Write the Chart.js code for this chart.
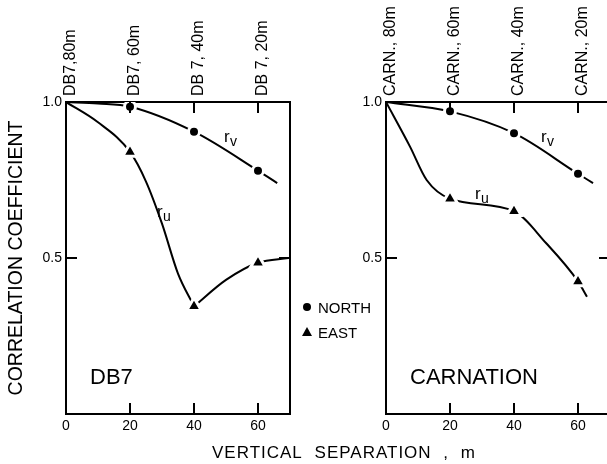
<!DOCTYPE html>
<html>
<head>
<meta charset="utf-8">
<script src="https://cdn.jsdelivr.net/npm/chart.js@4.4.1/dist/chart.umd.min.js"></script>
<style>
  body { margin: 0; background: #fff; }
  #wrap { position: relative; width: 607px; height: 464px; overflow: hidden; }
  #wrap canvas { position: absolute; left: 0; top: 0; }
</style>
</head>
<body>
<div id="wrap">
  <canvas id="db7" width="607" height="464"></canvas>
  <canvas id="carn" width="660" height="464"></canvas>
</div>
<script>
// Tick values and labels
const sepTicks = [0, 20, 40, 60];
const corrTicks = [0.5, 1.0];
const db7Tops = ['DB7,80m', 'DB7, 60m', 'DB 7, 40m', 'DB 7, 20m'];
const carnTops = ['CARN., 80m', 'CARN., 60m', 'CARN., 40m', 'CARN., 20m'];

// Measured points, vertical separation 20 / 40 / 60 m
const sepPts = [20, 40, 60];
const db7North = [0.985, 0.905, 0.78];
const db7East = [0.84, 0.345, 0.485];
const carnNorth = [0.97, 0.90, 0.77];
const carnEast = [0.69, 0.65, 0.425];

// Hand drawn curves through the points [x, y]
const db7VCurve = [[0, 1.0], [10, 0.995], [20, 0.985], [40, 0.905], [60, 0.78], [66, 0.74]];
const db7UCurveA = [[0, 1.0], [10, 0.935], [20, 0.84], [25, 0.745], [30, 0.61], [35, 0.45], [40, 0.345]];
const db7UCurveB = [[40, 0.345], [50, 0.43], [60, 0.485], [69.5, 0.5]];
const carnVCurve = [[0, 1.0], [20, 0.97], [40, 0.90], [60, 0.77], [64.7, 0.74]];
const carnUCurve = [[0, 1.0], [7.5, 0.857], [12.7, 0.75], [20, 0.69], [40, 0.65], [50, 0.548], [60, 0.425], [62.8, 0.376]];

const ink = '#000';
const face = '"Liberation Sans", Arial, sans-serif';

const toXY = pairs => pairs.map(p => ({x: p[0], y: p[1]}));

// Inward tick marks on all four sides
const inTicks = {
    id: 'inTicks',
    afterDraw(chart) {
        const {ctx, chartArea: a, scales: {x, y}} = chart;
        ctx.save();
        ctx.strokeStyle = ink;
        ctx.lineWidth = 2;
        ctx.beginPath();
        sepTicks.slice(1).forEach(v => {
            const px = x.getPixelForValue(v);
            ctx.moveTo(px, a.top); ctx.lineTo(px, a.top + 11);
            ctx.moveTo(px, a.bottom); ctx.lineTo(px, a.bottom - 11);
        });
        [0.5].forEach(v => {
            const py = y.getPixelForValue(v);
            ctx.moveTo(a.left, py); ctx.lineTo(a.left + 11, py);
            ctx.moveTo(a.right, py); ctx.lineTo(a.right - 11, py);
        });
        ctx.stroke();
        ctx.restore();
    }
};

// Panel name, r labels, shared legend and axis title
const notes = {
    id: 'notes',
    afterDraw(chart, args, o) {
        const {ctx, scales: {x, y}} = chart;
        ctx.save();
        ctx.fillStyle = ink;
        ctx.textAlign = 'left';
        ctx.textBaseline = 'alphabetic';
        ctx.font = '22px ' + face;
        ctx.fillText(o.name, x.getPixelForValue(7.5), y.getPixelForValue(0.096));

        o.rLabels.forEach(([sub, vx, vy]) => {
            const px = x.getPixelForValue(vx);
            const py = y.getPixelForValue(vy);
            ctx.font = '17px ' + face;
            ctx.fillText('r', px, py);
            ctx.font = '14px ' + face;
            ctx.fillText(sub, px + 6, py + 4);
        });

        if (o.shared) {
            // legend
            ctx.font = '15px ' + face;
            ctx.beginPath();
            ctx.arc(307, 307, 4, 0, Math.PI * 2);
            ctx.fill();
            ctx.fillText('NORTH', 318, 313);
            ctx.beginPath();
            ctx.moveTo(307, 327); ctx.lineTo(312, 336); ctx.lineTo(302, 336);
            ctx.closePath();
            ctx.fill();
            ctx.fillText('EAST', 318, 338);
            // x axis title for both panels
            ctx.font = '17px ' + face;
            ctx.letterSpacing = '1px';
            ctx.wordSpacing = '6px';
            ctx.fillText('VERTICAL SEPARATION , m', 212, 458);
        }
        ctx.restore();
    }
};

function makePanel(canvasId, tops, north, east, curves, extra) {
    const tickFont = {family: face, size: 14};
    const border = {display: true, width: 2, color: ink};
    const grid = {display: true, drawOnChartArea: false, drawTicks: false};
    const setTicks = vals => s => { s.ticks = vals.map(v => ({value: v})); };

    const datasets = [
        {
            label: 'NORTH',
            data: sepPts.map((x, i) => ({x, y: north[i]})),
            pointStyle: 'circle',
            pointRadius: 5.5,
            pointBackgroundColor: ink,
            pointBorderColor: '#fff',
            pointBorderWidth: 3,
            showLine: false
        },
        {
            label: 'EAST',
            data: sepPts.map((x, i) => ({x, y: east[i]})),
            pointStyle: 'triangle',
            pointRadius: 8.5,
            pointBackgroundColor: ink,
            pointBorderColor: '#fff',
            pointBorderWidth: 3,
            showLine: false
        }
    ];
    curves.forEach(c => datasets.push({
        data: toXY(c),
        showLine: true,
        borderColor: ink,
        borderWidth: 2,
        pointRadius: 0,
        cubicInterpolationMode: 'monotone',
        fill: false
    }));

    return new Chart(document.getElementById(canvasId), {
        type: 'scatter',
        data: {datasets},
        options: {
            responsive: false,
            animation: false,
            layout: {padding: 0},
            plugins: {
                legend: {display: false},
                tooltip: {enabled: false},
                notes: extra
            },
            scales: {
                x: {
                    type: 'linear', position: 'bottom', min: 0, max: 70,
                    afterBuildTicks: setTicks(sepTicks),
                    afterFit: s => { s.height = 50; },
                    ticks: {color: ink, font: tickFont, padding: 4, maxRotation: 0, autoSkip: false},
                    grid, border
                },
                xTop: {
                    type: 'linear', position: 'top', min: 0, max: 70,
                    afterBuildTicks: setTicks(sepTicks),
                    afterFit: s => { s.height = 102; },
                    ticks: {
                        color: ink, font: {family: face, size: 16}, padding: 6,
                        minRotation: 90, maxRotation: 90, autoSkip: false, labelOffset: 24,
                        callback: (v, i) => tops[i]
                    },
                    grid, border
                },
                y: {
                    type: 'linear', position: 'left', min: 0, max: 1,
                    afterBuildTicks: setTicks(corrTicks),
                    afterFit: s => { s.width = extra.left; },
                    ticks: {color: ink, font: tickFont, padding: 4, callback: v => v.toFixed(1)},
                    title: {
                        display: extra.shared, text: 'CORRELATION COEFFICIENT', color: ink,
                        font: {family: face, size: 19.5}, padding: {top: 5}
                    },
                    grid, border
                },
                yR: {
                    type: 'linear', position: 'right', min: 0, max: 1,
                    afterFit: s => { s.width = extra.right; },
                    ticks: {display: false},
                    grid, border
                }
            }
        },
        plugins: [inTicks, notes]
    });
}

makePanel('db7', db7Tops, db7North, db7East, [db7VCurve, db7UCurveA, db7UCurveB], {
    name: 'DB7', shared: true, left: 66, right: 317,
    rLabels: [['v', 49.4, 0.872], ['u', 28.4, 0.631]]
});
makePanel('carn', carnTops, carnNorth, carnEast, [carnVCurve, carnUCurve], {
    name: 'CARNATION', shared: false, left: 386, right: 50,
    rLabels: [['v', 48.4, 0.872], ['u', 27.8, 0.689]]
});
</script>
</body>
</html>
